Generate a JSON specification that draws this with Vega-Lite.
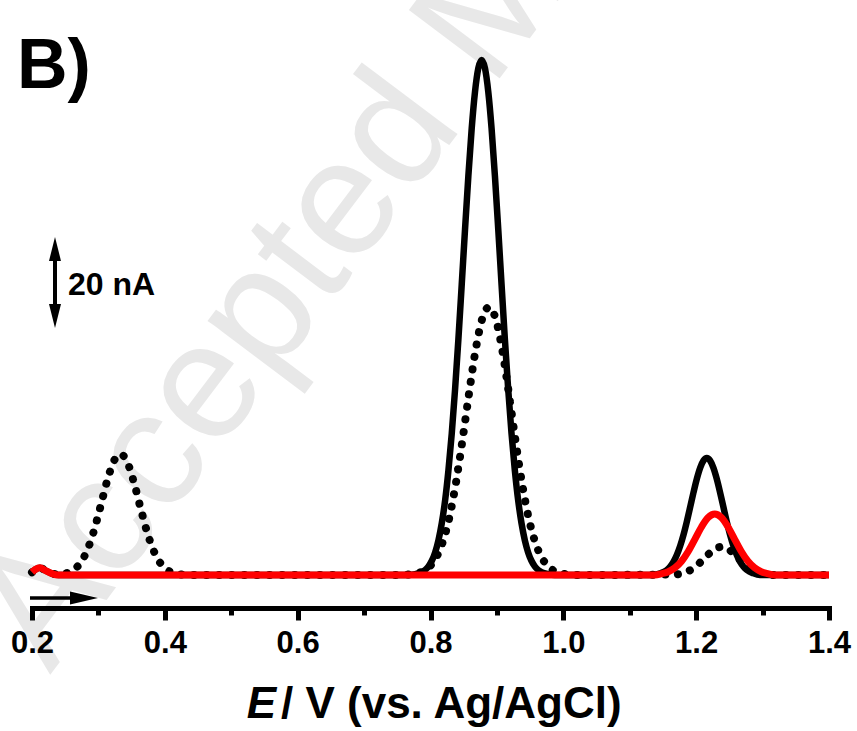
{
  "$schema": "https://vega.github.io/schema/vega-lite/v6.json",
  "width": 797,
  "height": 508,
  "autosize": "none",
  "padding": {"left": 32, "top": 100, "right": 28, "bottom": 123},
  "background": "white",
  "config": {"view": {"stroke": null}},
  "datasets": {
    "solid": [
      {"x":0.2,"y":0.6},{"x":0.205,"y":1.2},{"x":0.212,"y":1.6},{"x":0.22,"y":1.0},{"x":0.23,"y":0.3},{"x":0.24,"y":0},{"x":0.5,"y":0},{"x":0.767,"y":0},
      {"x":0.777,"y":0.19},{"x":0.787,"y":0.65},{"x":0.792,"y":1.13},{"x":0.797,"y":1.91},{"x":0.802,"y":3.13},{"x":0.807,"y":4.97},{"x":0.812,"y":7.65},{"x":0.817,"y":11.4},{"x":0.822,"y":16.4},{"x":0.827,"y":23.0},{"x":0.832,"y":31.1},{"x":0.837,"y":40.8},{"x":0.842,"y":51.8},{"x":0.847,"y":63.8},{"x":0.852,"y":76.0},{"x":0.857,"y":87.7},{"x":0.862,"y":98.1},{"x":0.867,"y":106.2},{"x":0.872,"y":111.4},{"x":0.877,"y":113.2},{"x":0.882,"y":111.4},{"x":0.887,"y":106.2},{"x":0.892,"y":98.1},{"x":0.897,"y":87.7},{"x":0.902,"y":76.0},{"x":0.907,"y":63.8},{"x":0.912,"y":51.8},{"x":0.917,"y":40.8},{"x":0.922,"y":31.1},{"x":0.927,"y":23.0},{"x":0.932,"y":16.4},{"x":0.937,"y":11.4},{"x":0.942,"y":7.65},{"x":0.947,"y":4.97},{"x":0.952,"y":3.13},{"x":0.957,"y":1.91},{"x":0.962,"y":1.13},{"x":0.967,"y":0.65},{"x":0.977,"y":0.19},{"x":0.987,"y":0},
      {"x":1.136,"y":0},{"x":1.146,"y":0.37},{"x":1.156,"y":1.13},{"x":1.161,"y":1.86},{"x":1.166,"y":2.93},{"x":1.171,"y":4.43},{"x":1.176,"y":6.41},{"x":1.181,"y":8.87},{"x":1.186,"y":11.77},{"x":1.191,"y":14.94},{"x":1.196,"y":18.16},{"x":1.201,"y":21.14},{"x":1.206,"y":23.56},{"x":1.211,"y":25.15},{"x":1.216,"y":25.7},{"x":1.221,"y":25.15},{"x":1.226,"y":23.56},{"x":1.231,"y":21.14},{"x":1.236,"y":18.16},{"x":1.241,"y":14.94},{"x":1.246,"y":11.77},{"x":1.251,"y":8.87},{"x":1.256,"y":6.41},{"x":1.261,"y":4.43},{"x":1.266,"y":2.93},{"x":1.271,"y":1.86},{"x":1.276,"y":1.13},{"x":1.286,"y":0.37},{"x":1.296,"y":0},{"x":1.4,"y":0}
    ],
    "dotted": [
      {"x":0.2,"y":0.6},{"x":0.205,"y":1.2},{"x":0.212,"y":1.6},{"x":0.22,"y":1.0},{"x":0.23,"y":0.3},{"x":0.243,"y":0.15},{"x":0.253,"y":0.45},{"x":0.263,"y":1.17},{"x":0.273,"y":2.68},{"x":0.283,"y":5.4},{"x":0.293,"y":9.59},{"x":0.303,"y":14.98},{"x":0.313,"y":20.61},{"x":0.323,"y":24.96},{"x":0.333,"y":26.6},{"x":0.343,"y":24.96},{"x":0.353,"y":20.61},{"x":0.363,"y":14.98},{"x":0.373,"y":9.59},{"x":0.383,"y":5.4},{"x":0.393,"y":2.68},{"x":0.403,"y":1.17},{"x":0.413,"y":0.45},{"x":0.423,"y":0.15},{"x":0.433,"y":0},
      {"x":0.758,"y":0},{"x":0.768,"y":0.12},{"x":0.778,"y":0.31},{"x":0.788,"y":0.78},{"x":0.798,"y":1.77},{"x":0.808,"y":3.7},{"x":0.818,"y":7.07},{"x":0.828,"y":12.4},{"x":0.838,"y":20.0},{"x":0.848,"y":29.5},{"x":0.858,"y":39.9},{"x":0.868,"y":49.5},{"x":0.878,"y":56.4},{"x":0.888,"y":58.9},{"x":0.898,"y":56.4},{"x":0.908,"y":49.5},{"x":0.918,"y":39.9},{"x":0.928,"y":29.5},{"x":0.938,"y":20.0},{"x":0.948,"y":12.4},{"x":0.958,"y":7.07},{"x":0.968,"y":3.7},{"x":0.978,"y":1.77},{"x":0.988,"y":0.78},{"x":0.998,"y":0.31},{"x":1.008,"y":0.12},{"x":1.018,"y":0},
      {"x":1.168,"y":0.12},{"x":1.178,"y":0.35},{"x":1.188,"y":0.84},{"x":1.198,"y":1.72},{"x":1.208,"y":3.02},{"x":1.218,"y":4.5},{"x":1.228,"y":5.72},{"x":1.238,"y":6.2},{"x":1.248,"y":5.72},{"x":1.258,"y":4.5},{"x":1.268,"y":3.02},{"x":1.278,"y":1.72},{"x":1.288,"y":0.84},{"x":1.298,"y":0.35},{"x":1.308,"y":0.12},{"x":1.318,"y":0},{"x":1.4,"y":0}
    ],
    "red": [
      {"x":0.2,"y":0.6},{"x":0.205,"y":1.2},{"x":0.212,"y":1.6},{"x":0.22,"y":1.0},{"x":0.23,"y":0.3},{"x":0.24,"y":0},{"x":0.7,"y":0},{"x":1.138,"y":0},
      {"x":1.148,"y":0.3},{"x":1.158,"y":0.73},{"x":1.168,"y":1.58},{"x":1.178,"y":3.03},{"x":1.188,"y":5.18},{"x":1.198,"y":7.85},{"x":1.208,"y":10.56},{"x":1.218,"y":12.63},{"x":1.228,"y":13.4},{"x":1.238,"y":12.63},{"x":1.248,"y":10.56},{"x":1.258,"y":7.85},{"x":1.268,"y":5.18},{"x":1.278,"y":3.03},{"x":1.288,"y":1.58},{"x":1.298,"y":0.73},{"x":1.308,"y":0.3},{"x":1.318,"y":0},{"x":1.4,"y":0}
    ],
    "watermark": [{"x":0.2271,"y":-21.97,"t":"Accepted Manuscript"}],
    "panel": [{"x":0.1774,"y":107.04,"t":"B)"}],
    "scalebar": [{"x":0.2346,"y":71.5,"y2":57.1}],
    "scaletop": [{"x":0.2346,"y":74.29}],
    "scalebottom": [{"x":0.2346,"y":54.29}],
    "scalelabel": [{"x":0.2542,"y":61.54,"t":"20 nA"}],
    "arrow": [{"x":0.197,"x2":0.28,"y":-5.05}],
    "arrowhead": [{"x":0.2994,"y":-5.05}],
    "titleE": [{"x":0.5674,"y":-31.42,"t":"E"}],
    "titleRest": [{"x":0.5749,"y":-31.42,"t":"/ V (vs. Ag/AgCl)"}]
  },
  "resolve": {"axis": {"x": "independent"}},
  "layer": [
    {
      "data": {"name": "watermark"},
      "mark": {"type": "text", "angle": -53, "fontSize": 165, "font": "Liberation Sans", "color": "#e8e8e8", "align": "left", "baseline": "alphabetic"},
      "encoding": {
        "x": {"field": "x", "type": "quantitative", "scale": {"domain": [0.2, 1.4], "nice": false, "zero": false}, "axis": null},
        "y": {"field": "y", "type": "quantitative", "scale": {"domain": [-7.25, 104.4], "nice": false, "zero": false}, "axis": null},
        "text": {"field": "t"}
      }
    },
    {
      "data": {"name": "dotted"},
      "mark": {"type": "line", "color": "black", "strokeWidth": 8, "strokeDash": [0.1, 12.5], "strokeCap": "round", "interpolate": "monotone"},
      "encoding": {
        "x": {"field": "x", "type": "quantitative", "scale": {"domain": [0.2, 1.4], "nice": false, "zero": false},
              "axis": {"orient": "bottom", "zindex": 1, "values": [0.3, 0.5, 0.7, 0.9, 1.1, 1.3], "labels": false, "domain": false, "ticks": true, "tickSize": 7, "tickWidth": 5, "tickColor": "black", "grid": false, "title": null}},
        "y": {"field": "y", "type": "quantitative", "axis": null}
      }
    },
    {
      "data": {"name": "solid"},
      "mark": {"type": "line", "color": "black", "strokeWidth": 6.5, "interpolate": "monotone"},
      "encoding": {
        "x": {"field": "x", "type": "quantitative",
              "axis": {"orient": "bottom", "zindex": 1, "values": [0.2, 0.4, 0.6, 0.8, 1.0, 1.2, 1.4], "format": ".1f", "labelFont": "Liberation Sans", "labelFontWeight": "bold", "labelFontSize": 31, "labelColor": "black", "tickSize": 12, "tickWidth": 5, "tickColor": "black", "domainColor": "black", "domainWidth": 5, "domainCap": "square", "labelPadding": 8, "labelFlush": false, "labelOverlap": false, "grid": false, "title": null}},
        "y": {"field": "y", "type": "quantitative", "axis": null}
      }
    },
    {
      "data": {"name": "red"},
      "mark": {"type": "line", "color": "#ff0000", "strokeWidth": 7, "interpolate": "monotone"},
      "encoding": {
        "x": {"field": "x", "type": "quantitative", "axis": null},
        "y": {"field": "y", "type": "quantitative", "axis": null}
      }
    },
    {
      "data": {"name": "panel"},
      "mark": {"type": "text", "font": "Liberation Sans", "fontWeight": "bold", "fontSize": 70, "color": "black", "align": "left", "baseline": "alphabetic"},
      "encoding": {
        "x": {"field": "x", "type": "quantitative", "axis": null},
        "y": {"field": "y", "type": "quantitative", "axis": null},
        "text": {"field": "t"}
      }
    },
    {
      "data": {"name": "scalebar"},
      "mark": {"type": "rule", "color": "black", "strokeWidth": 4},
      "encoding": {
        "x": {"field": "x", "type": "quantitative", "axis": null},
        "y": {"field": "y", "type": "quantitative", "axis": null},
        "y2": {"field": "y2"}
      }
    },
    {
      "data": {"name": "scaletop"},
      "mark": {"type": "point", "shape": "M0,-1L0.5,1L-0.5,1Z", "size": 576, "filled": true, "color": "black", "opacity": 1, "yOffset": 12},
      "encoding": {
        "x": {"field": "x", "type": "quantitative", "axis": null},
        "y": {"field": "y", "type": "quantitative", "axis": null}
      }
    },
    {
      "data": {"name": "scalebottom"},
      "mark": {"type": "point", "shape": "M0,1L0.5,-1L-0.5,-1Z", "size": 576, "filled": true, "color": "black", "opacity": 1, "yOffset": -12},
      "encoding": {
        "x": {"field": "x", "type": "quantitative", "axis": null},
        "y": {"field": "y", "type": "quantitative", "axis": null}
      }
    },
    {
      "data": {"name": "scalelabel"},
      "mark": {"type": "text", "font": "Liberation Sans", "fontWeight": "bold", "fontSize": 32, "color": "black", "align": "left", "baseline": "alphabetic"},
      "encoding": {
        "x": {"field": "x", "type": "quantitative", "axis": null},
        "y": {"field": "y", "type": "quantitative", "axis": null},
        "text": {"field": "t"}
      }
    },
    {
      "data": {"name": "arrow"},
      "mark": {"type": "rule", "color": "black", "strokeWidth": 3.5},
      "encoding": {
        "x": {"field": "x", "type": "quantitative", "axis": null},
        "x2": {"field": "x2"},
        "y": {"field": "y", "type": "quantitative", "axis": null}
      }
    },
    {
      "data": {"name": "arrowhead"},
      "mark": {"type": "point", "shape": "M1,0L-1,0.46L-1,-0.46Z", "size": 784, "filled": true, "color": "black", "opacity": 1, "xOffset": -14},
      "encoding": {
        "x": {"field": "x", "type": "quantitative", "axis": null},
        "y": {"field": "y", "type": "quantitative", "axis": null}
      }
    },
    {
      "data": {"name": "titleE"},
      "mark": {"type": "text", "font": "Liberation Sans", "fontWeight": "bold", "fontStyle": "italic", "fontSize": 44, "color": "black", "align": "right", "baseline": "alphabetic"},
      "encoding": {
        "x": {"field": "x", "type": "quantitative", "axis": null},
        "y": {"field": "y", "type": "quantitative", "axis": null},
        "text": {"field": "t"}
      }
    },
    {
      "data": {"name": "titleRest"},
      "mark": {"type": "text", "font": "Liberation Sans", "fontWeight": "bold", "fontSize": 44, "color": "black", "align": "left", "baseline": "alphabetic"},
      "encoding": {
        "x": {"field": "x", "type": "quantitative", "axis": null},
        "y": {"field": "y", "type": "quantitative", "axis": null},
        "text": {"field": "t"}
      }
    }
  ]
}
